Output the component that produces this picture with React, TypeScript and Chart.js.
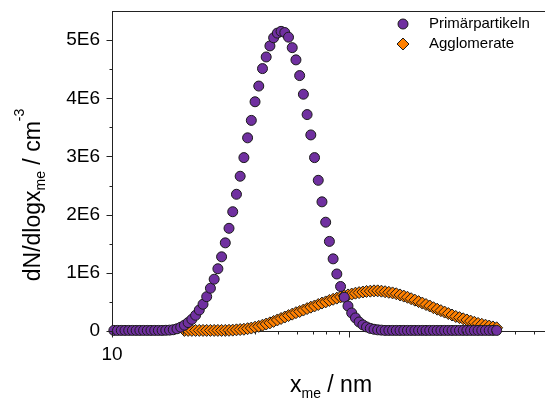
import React, { useEffect, useRef } from 'react';
import { Chart, registerables } from 'chart.js';

Chart.register(...registerables);

// Particle size bins (mobility equivalent diameter, nm), 64 channels per decade
const sizesNm = [
  10.18, 10.55, 10.94, 11.34, 11.76, 12.19, 12.64, 13.10, 13.58, 14.08,
  14.59, 15.13, 15.68, 16.26, 16.85, 17.47, 18.11, 18.78, 19.47, 20.18,
  20.92, 21.69, 22.49, 23.31, 24.17, 25.05, 25.97, 26.93, 27.92, 28.94,
  30.00, 31.10, 32.24, 33.43, 34.65, 35.93, 37.24, 38.61, 40.03, 41.50,
  43.03, 44.60, 46.24, 47.94, 49.70, 51.52, 53.42, 55.38, 57.41, 59.52,
  61.70, 63.97, 66.32, 68.75, 71.27, 73.89, 76.60, 79.41, 82.32, 85.35,
  88.48, 91.73, 95.09, 98.58, 102.2, 106.0, 109.8, 113.9, 118.0, 122.4,
  126.9, 131.5, 136.3, 141.3, 146.5, 151.9, 157.5, 163.3, 169.3, 175.5,
  181.9, 188.6, 195.5, 202.7, 210.1, 217.8, 225.8, 234.1, 242.7, 251.6,
  260.8, 270.4, 280.3, 290.6, 301.3, 312.3, 323.8, 335.7, 348.0, 360.8,
  374.0, 387.7, 402.0, 416.7,
];

// dN/dlogx in units of 1E6 cm^-3
const primaerpartikeln = [
  0.01, 0.01, 0.01, 0.01, 0.01, 0.01, 0.01, 0.01, 0.01, 0.01,
  0.01, 0.01, 0.01, 0.01, 0.012, 0.015, 0.022, 0.038, 0.065, 0.10,
  0.145, 0.20, 0.27, 0.36, 0.46, 0.59, 0.735, 0.89, 1.07, 1.275,
  1.515, 1.765, 2.05, 2.35, 2.66, 2.98, 3.32, 3.62, 3.94, 4.21,
  4.51, 4.71, 4.90, 5.04, 5.12, 5.15, 5.13, 5.05, 4.87, 4.66,
  4.39, 4.07, 3.72, 3.37, 2.98, 2.59, 2.22, 1.87, 1.54, 1.24,
  0.98, 0.765, 0.58, 0.43, 0.31, 0.225, 0.155, 0.105, 0.07, 0.045,
  0.03, 0.02, 0.015, 0.01, 0.01, 0.01, 0.01, 0.01, 0.01, 0.01,
  0.01, 0.01, 0.01, 0.01, 0.01, 0.01, 0.01, 0.01, 0.01, 0.01,
  0.01, 0.01, 0.01, 0.01, 0.01, 0.01, 0.01, 0.01, 0.01, 0.01,
  0.01, 0.01, 0.01, 0.01,
];

const agglomerate = [
  null, null, null, null, null, null, null, null, null, null,
  null, null, null, null, null, null, null, null, null, 0.01,
  0.01, 0.01, 0.01, 0.01, 0.01, 0.01, 0.01, 0.01, 0.01, 0.01,
  0.01, 0.012, 0.015, 0.02, 0.025, 0.03, 0.04, 0.05, 0.065, 0.08,
  0.10, 0.12, 0.14, 0.165, 0.19, 0.215, 0.24, 0.265, 0.29, 0.315,
  0.335, 0.36, 0.385, 0.41, 0.43, 0.455, 0.48, 0.50, 0.525, 0.545,
  0.565, 0.585, 0.605, 0.62, 0.635, 0.65, 0.66, 0.67, 0.68, 0.685,
  0.69, 0.69, 0.685, 0.675, 0.665, 0.655, 0.64, 0.62, 0.60, 0.58,
  0.555, 0.53, 0.505, 0.48, 0.455, 0.43, 0.40, 0.375, 0.35, 0.325,
  0.30, 0.275, 0.25, 0.23, 0.21, 0.19, 0.17, 0.15, 0.13, 0.115,
  0.10, 0.085, 0.07, 0.055,
];

const seriesNames = ['Primärpartikeln', 'Agglomerate'];
const xTicks = [10, 20, 30, 40, 50, 60, 70, 80, 90, 100, 200, 300, 400, 500, 600];
const xMajor = [10, 100];
const xLabeled = [10];
const yMajorTicks = [0, 1, 2, 3, 4, 5];
const yMinorTicks = [0.5, 1.5, 2.5, 3.5, 4.5];

const FONT = "'Liberation Sans', Arial, Helvetica, sans-serif";
const PURPLE = '#7030a0';
const ORANGE = '#ff8000';
const EDGE = '#1a1a1a';
const AXIS = '#222222';

function toPoints(ys: (number | null)[]) {
  const pts: { x: number; y: number }[] = [];
  ys.forEach((v, i) => {
    if (v !== null && v !== undefined) pts.push({ x: sizesNm[i], y: v });
  });
  return pts;
}

const decorPlugin = {
  id: 'decor',
  afterDraw(chart: any) {
    const { ctx, chartArea: a, scales } = chart;
    const x = scales.x;
    const y = scales.y;
    ctx.save();
    ctx.strokeStyle = AXIS;
    ctx.lineWidth = 1;
    const line = (x1: number, y1: number, x2: number, y2: number) => {
      ctx.beginPath();
      ctx.moveTo(x1, y1);
      ctx.lineTo(x2, y2);
      ctx.stroke();
    };
    // top frame line
    line(a.left, Math.round(a.top) + 0.5, a.right, Math.round(a.top) + 0.5);
    const ax = Math.round(a.left) + 0.5;
    const ay = Math.round(a.bottom) + 0.5;
    // y ticks
    yMajorTicks.forEach((v) => {
      const py = Math.round(y.getPixelForValue(v)) + 0.5;
      line(ax - 6, py, ax, py);
    });
    yMinorTicks.forEach((v) => {
      const py = Math.round(y.getPixelForValue(v)) + 0.5;
      line(ax - 3, py, ax, py);
    });
    // x ticks
    xTicks.forEach((v) => {
      const px = Math.round(x.getPixelForValue(v)) + 0.5;
      const len = xMajor.includes(v) ? 6 : 3;
      line(px, ay, px, ay + len);
    });

    ctx.fillStyle = '#000';
    ctx.textBaseline = 'alphabetic';
    ctx.textAlign = 'left';

    // x title: x_me / nm
    {
      const big = `23px ${FONT}`;
      const small = `14px ${FONT}`;
      ctx.font = big;
      const w1 = ctx.measureText('x').width;
      const w3 = ctx.measureText(' / nm').width;
      ctx.font = small;
      const w2 = ctx.measureText('me').width;
      const total = w1 + w2 + w3;
      let sx = 331 - total / 2;
      const by = 392;
      ctx.font = big;
      ctx.fillText('x', sx, by);
      sx += w1;
      ctx.font = small;
      ctx.fillText('me', sx, by + 6);
      sx += w2;
      ctx.font = big;
      ctx.fillText(' / nm', sx, by);
    }

    // y title: dN/dlogx_me / cm^-3 (rotated)
    {
      ctx.save();
      ctx.translate(40, 195);
      ctx.rotate(-Math.PI / 2);
      const big = `23px ${FONT}`;
      const small = `14px ${FONT}`;
      ctx.font = big;
      const w1 = ctx.measureText('dN/dlogx').width;
      const w3 = ctx.measureText(' / cm').width;
      ctx.font = small;
      const w2 = ctx.measureText('me').width;
      const w4 = ctx.measureText('-3').width;
      const total = w1 + w2 + w3 + w4;
      let sx = -total / 2;
      ctx.font = big;
      ctx.fillText('dN/dlogx', sx, 0);
      sx += w1;
      ctx.font = small;
      ctx.fillText('me', sx, 5);
      sx += w2;
      ctx.font = big;
      ctx.fillText(' / cm', sx, 0);
      sx += w3;
      ctx.font = small;
      ctx.fillText('-3', sx, -16);
      ctx.restore();
    }

    // legend
    {
      ctx.lineWidth = 1;
      ctx.strokeStyle = EDGE;
      ctx.fillStyle = PURPLE;
      ctx.beginPath();
      ctx.arc(403, 24, 5, 0, Math.PI * 2);
      ctx.fill();
      ctx.stroke();
      ctx.fillStyle = ORANGE;
      ctx.beginPath();
      ctx.moveTo(403, 44 - 6);
      ctx.lineTo(403 + 6, 44);
      ctx.lineTo(403, 44 + 6);
      ctx.lineTo(403 - 6, 44);
      ctx.closePath();
      ctx.fill();
      ctx.stroke();
      ctx.fillStyle = '#000';
      ctx.font = `15px ${FONT}`;
      ctx.textBaseline = 'middle';
      ctx.fillText(seriesNames[0], 429, 24);
      ctx.fillText(seriesNames[1], 429, 44);
    }
    ctx.restore();
  },
};

export default function App() {
  const ref = useRef<HTMLCanvasElement | null>(null);

  useEffect(() => {
    if (!ref.current) return;
    Chart.defaults.font.family = FONT;
    const chart = new Chart(ref.current, {
      type: 'scatter',
      data: {
        datasets: [
          {
            label: seriesNames[0],
            data: toPoints(primaerpartikeln),
            pointStyle: 'circle',
            pointRadius: 5,
            pointBackgroundColor: PURPLE,
            pointBorderColor: EDGE,
            pointBorderWidth: 1,
            showLine: false,
            clip: false as any,
          },
          {
            label: seriesNames[1],
            data: toPoints(agglomerate),
            pointStyle: 'rectRot',
            pointRadius: 6,
            pointBackgroundColor: ORANGE,
            pointBorderColor: EDGE,
            pointBorderWidth: 1,
            showLine: false,
            clip: false as any,
          },
        ],
      },
      options: {
        responsive: false,
        animation: false,
        devicePixelRatio: 1,
        layout: { autoPadding: false, padding: { top: 11, right: 0, left: 0, bottom: 0 } },
        plugins: {
          legend: { display: false },
          tooltip: { enabled: false },
          title: { display: false },
        },
        scales: {
          x: {
            type: 'logarithmic',
            min: 10,
            max: 666,
            grid: { display: false, drawTicks: false },
            border: { display: true, color: AXIS, width: 1 },
            afterBuildTicks: (scale: any) => {
              scale.ticks = xTicks.map((v) => ({ value: v }));
            },
            afterFit: (scale: any) => {
              scale.height = 72;
              scale.paddingLeft = 0;
              scale.paddingRight = 0;
              scale.paddingTop = 0;
              scale.paddingBottom = 0;
            },
            ticks: {
              autoSkip: false,
              maxRotation: 0,
              minRotation: 0,
              padding: 12,
              color: '#000',
              font: { size: 19, family: FONT },
              callback: (v: any) => (xLabeled.includes(Number(v)) ? String(v) : ''),
            },
          },
          y: {
            type: 'linear',
            min: 0,
            max: 5.5,
            grid: { display: false, drawTicks: false },
            border: { display: true, color: AXIS, width: 1 },
            afterBuildTicks: (scale: any) => {
              scale.ticks = yMajorTicks.map((v) => ({ value: v }));
            },
            afterFit: (scale: any) => {
              scale.width = 112;
              scale.paddingLeft = 0;
              scale.paddingRight = 0;
              scale.paddingTop = 0;
              scale.paddingBottom = 0;
            },
            ticks: {
              padding: 12,
              color: '#000',
              font: { size: 19, family: FONT },
              callback: (v: any) => (Number(v) === 0 ? '0' : `${v}E6`),
            },
          },
        },
      },
      plugins: [decorPlugin],
    });
    return () => chart.destroy();
  }, []);

  return (
    <div style={{ position: 'fixed', left: 0, top: 0, width: 545, height: 403, background: '#fff' }}>
      <canvas ref={ref} width={545} height={403} style={{ width: 545, height: 403, display: 'block' }} />
    </div>
  );
}
